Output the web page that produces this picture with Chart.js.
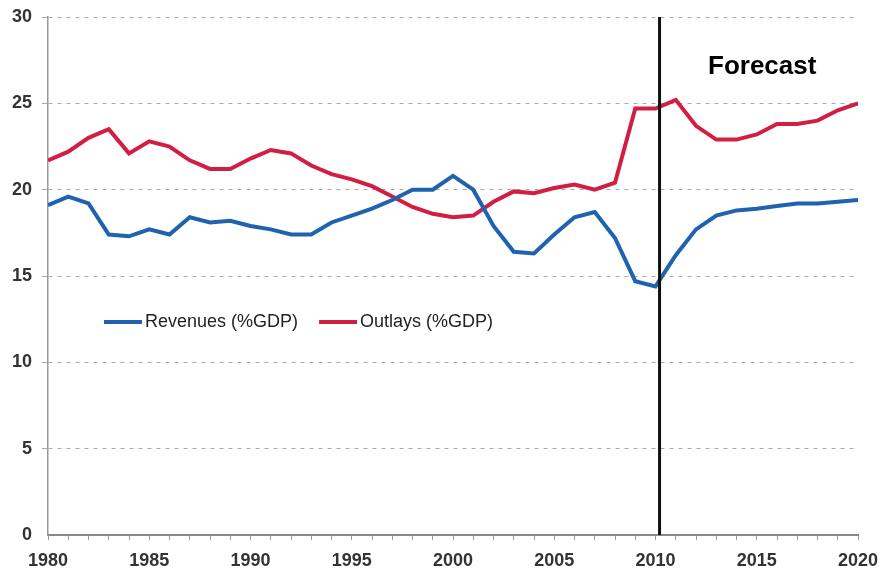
<!DOCTYPE html>
<html>
<head>
<meta charset="utf-8">
<script src="https://cdn.jsdelivr.net/npm/chart.js@4/dist/chart.umd.min.js"></script>
<style>
  html, body { margin: 0; padding: 0; background: #fff; }
  #wrap { width: 882px; height: 577px; }
</style>
</head>
<body>
<div id="wrap"><canvas id="c"></canvas></div>
<script>
// years 1980..2020
const years = [];
for (let y = 1980; y <= 2020; y++) years.push(y);

const revenues = [19.1, 19.6, 19.2, 17.4, 17.3, 17.7, 17.4, 18.4, 18.1, 18.2,
  17.9, 17.7, 17.4, 17.4, 18.1, 18.5, 18.9, 19.4, 20.0, 20.0,
  20.8, 20.0, 17.9, 16.4, 16.3, 17.4, 18.4, 18.7, 17.2, 14.7,
  14.4, 16.2, 17.7, 18.5, 18.8, 18.9, 19.05, 19.2, 19.2, 19.3, 19.4];

const outlays = [21.7, 22.2, 23.0, 23.5, 22.1, 22.8, 22.5, 21.7, 21.2, 21.2,
  21.8, 22.3, 22.1, 21.4, 20.9, 20.6, 20.2, 19.6, 19.0, 18.6,
  18.4, 18.5, 19.3, 19.9, 19.8, 20.1, 20.3, 20.0, 20.4, 24.7,
  24.7, 25.2, 23.7, 22.9, 22.9, 23.2, 23.8, 23.8, 24.0, 24.6, 25.0];

const forecastYear = 2010.2;
const forecastLabel = "Forecast";

const toPts = (arr) => arr.map((v, i) => ({ x: years[i], y: v }));

// 予測開始の縦線と「Forecast」文字、凡例を描く
const overlay = {
  id: "overlay",
  afterDatasetsDraw(chart) {
    const { ctx, chartArea, scales } = chart;
    const x = scales.x.getPixelForValue(forecastYear);
    ctx.save();
    ctx.strokeStyle = "#111";
    ctx.lineWidth = 3;
    ctx.beginPath();
    ctx.moveTo(x, chartArea.top);
    ctx.lineTo(x, chartArea.bottom);
    ctx.stroke();

    ctx.fillStyle = "#000";
    ctx.font = "bold 26px 'Liberation Sans', Arial, sans-serif";
    ctx.textBaseline = "middle";
    ctx.fillText(forecastLabel, 708, 67);

    // legend
    let lx = 104;
    const ly = 322;
    ctx.font = "18px 'Liberation Sans', Arial, sans-serif";
    chart.data.datasets.forEach((ds) => {
      ctx.strokeStyle = ds.borderColor;
      ctx.lineWidth = 4;
      ctx.beginPath();
      ctx.moveTo(lx, ly);
      ctx.lineTo(lx + 38, ly);
      ctx.stroke();
      ctx.fillStyle = "#222";
      ctx.fillText(ds.label, lx + 41, ly);
      lx += 41 + ctx.measureText(ds.label).width + 21;
    });
    ctx.restore();
  },
};

const tickFont = { family: "'Liberation Sans', Arial, sans-serif", size: 18, weight: "bold" };

new Chart(document.getElementById("c"), {
  type: "line",
  data: {
    datasets: [
      {
        label: "Revenues (%GDP)",
        data: toPts(revenues),
        borderColor: "#1f62ad",
        borderWidth: 4,
        pointRadius: 0,
        tension: 0,
      },
      {
        label: "Outlays (%GDP)",
        data: toPts(outlays),
        borderColor: "#d11f44",
        borderWidth: 4,
        pointRadius: 0,
        tension: 0,
      },
    ],
  },
  options: {
    responsive: true,
    maintainAspectRatio: false,
    animation: false,
    layout: { padding: { top: 17, right: 24, left: 0, bottom: 0 } },
    plugins: {
      legend: { display: false },
      tooltip: { enabled: false },
    },
    scales: {
      x: {
        type: "linear",
        min: 1980,
        max: 2020,
        afterFit: (s) => { s.height = 42; s.paddingRight = 0; s.paddingLeft = 0; },
        border: { color: "#888", width: 2 },
        grid: { drawOnChartArea: false, drawTicks: true, tickLength: 5, color: "#999" },
        ticks: {
          stepSize: 1,
          autoSkip: false,
          maxRotation: 0,
          padding: 10,
          color: "#333",
          font: tickFont,
          callback: (v) => (v % 5 === 0 ? String(v) : ""),
        },
      },
      y: {
        min: 0,
        max: 30,
        afterFit: (s) => { s.width = 48; s.paddingTop = 0; s.paddingBottom = 0; },
        border: { color: "#999", width: 1.5, dash: [4, 5] },
        grid: {
          color: (c) => (c.tick.value === 0 ? "rgba(0,0,0,0)" : "#aaa"),
          tickLength: 6,
        },
        ticks: {
          stepSize: 5,
          color: "#333",
          padding: 10,
          font: tickFont,
        },
      },
    },
  },
  plugins: [overlay],
});
</script>
</body>
</html>
